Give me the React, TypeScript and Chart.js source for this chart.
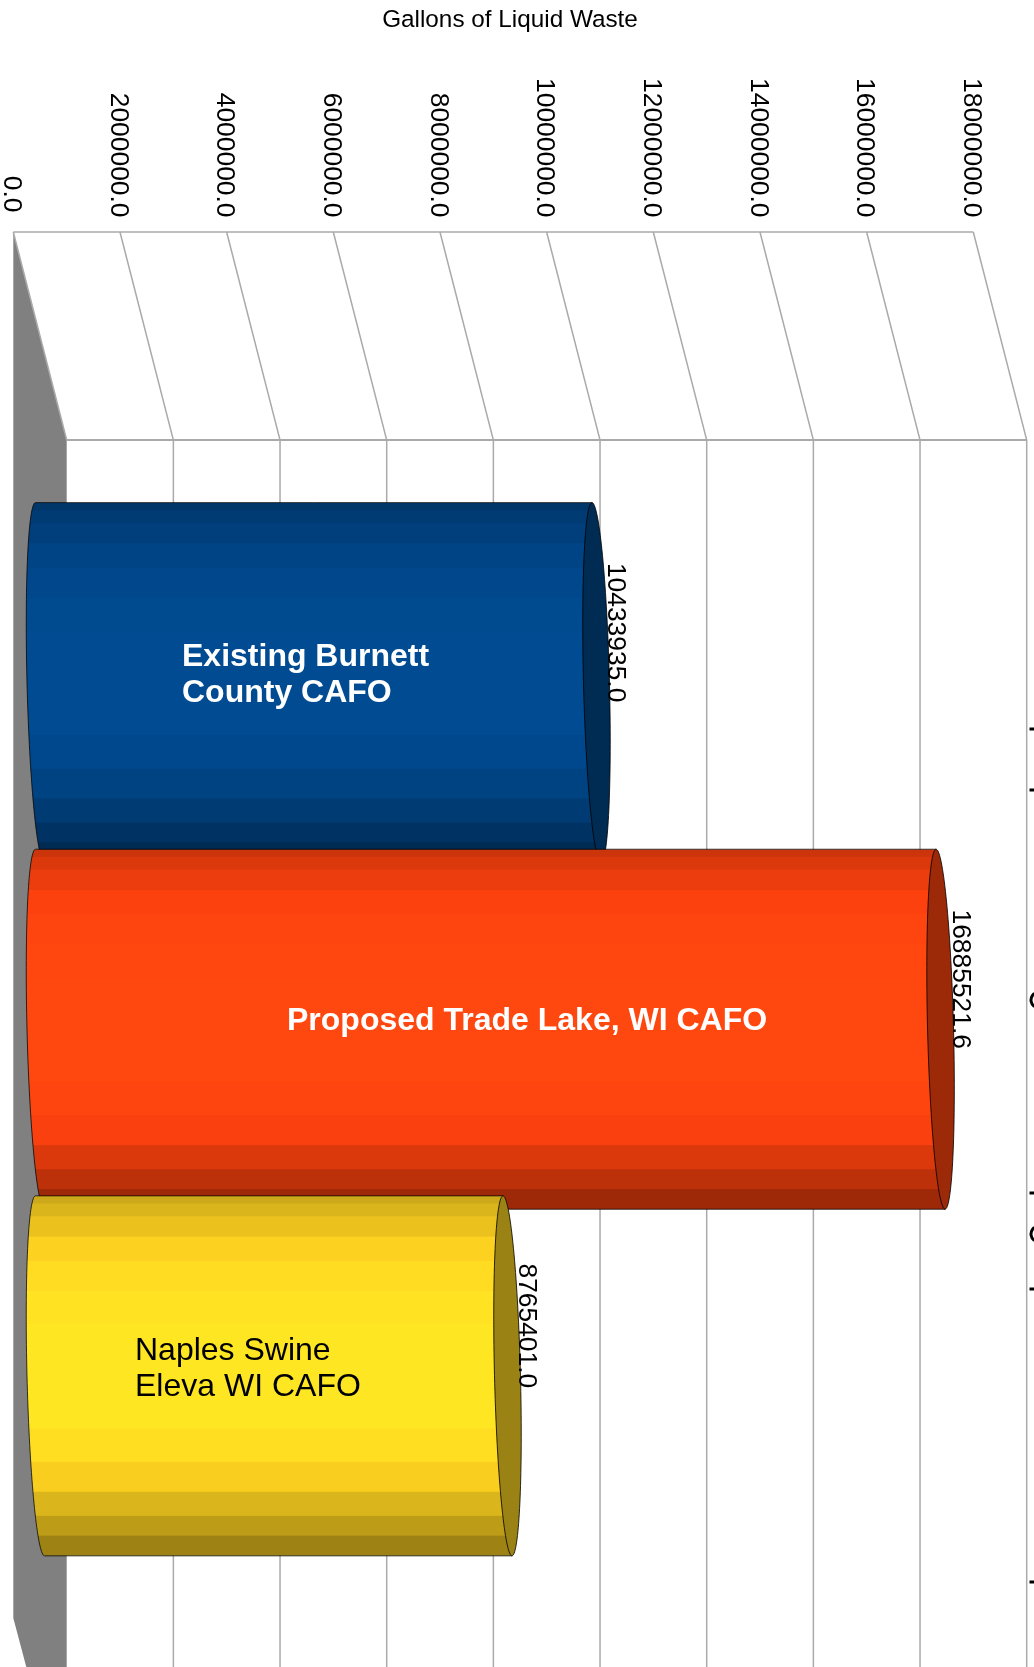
import React, { useEffect, useRef } from "react";
import { Chart, registerables } from "chart.js";

Chart.register(...registerables);

const chartTitle = "Gallons of Liquid Waste";
const slots = [1, 2, 3];
const gallons = [10433935.0, 16885521.6, 8765401.0];
const noteLines = [
  ["Existing Burnett", "County CAFO"],
  ["Proposed Trade Lake, WI CAFO"],
  ["Naples Swine", "Eleva WI CAFO"],
];
const axisMax = 18000000;
const axisStep = 2000000;
const slotAxisMax = 3.84;

const bodyColors = [
  [0, 69, 134],
  [255, 66, 14],
  [255, 211, 32],
];
const capColors = ["#002b52", "#9c2a09", "#9a8214"];
const noteColors = ["#ffffff", "#ffffff", "#000000"];
const noteWeights = ["bold", "bold", "normal"];
const noteLeft = [182, 287, 135];
const noteBaseline = [666, 1030, 1360];

// Stepped shading across the cylinder body: [start fraction, brightness].
const bandStarts = [0, 0.021, 0.057, 0.113, 0.181, 0.264, 0.356, 0.646, 0.739, 0.822, 0.889, 0.944];
const bandShades = [0.8, 0.86, 0.92, 0.99, 1.04, 1.07, 1.09, 1.05, 0.975, 0.86, 0.74, 0.62];

// Slivers of the rotated category text that run off the right edge.
const edgeDashes = [729, 790, 1193, 1289, 1582];
const edgeCurves = [1000, 1234];

const FONT = '"Liberation Sans", Arial, sans-serif';
const GRID = "#aaaaaa";
const WALL = "#808080";
const DEPTH_X = 26.7;
const DEPTH_Y = 104;
const CAP_A = 13;
const CAP_B = 4.5;

function ellipsePoint(cx: number, cy: number, r: number, t: number): [number, number] {
  return [cx + CAP_A * Math.cos(t) + CAP_B * Math.sin(t), cy + r * Math.sin(t)];
}

function cylinder(ctx: CanvasRenderingContext2D, x0: number, x1: number, cy: number, r: number, i: number) {
  const steps = 72;
  const body = new Path2D();
  // Left rim, top tip round through the far side to the bottom tip.
  for (let s = 0; s <= steps; s++) {
    const t = -Math.PI / 2 - (Math.PI * s) / steps;
    const [px, py] = ellipsePoint(x0, cy, r, t);
    if (s === 0) body.moveTo(px, py);
    else body.lineTo(px, py);
  }
  const bottomTip = ellipsePoint(x1, cy, r, Math.PI / 2);
  const topTip = ellipsePoint(x1, cy, r, -Math.PI / 2);
  body.lineTo(bottomTip[0], bottomTip[1]);
  body.lineTo(topTip[0], topTip[1]);
  body.closePath();

  ctx.save();
  ctx.clip(body);
  const [cr, cg, cb] = bodyColors[i];
  const channel = (c: number, k: number) => Math.min(255, Math.round(c * k));
  bandStarts.forEach((start, b) => {
    const end = b + 1 < bandStarts.length ? bandStarts[b + 1] : 1;
    const k = bandShades[b];
    ctx.fillStyle = `rgb(${channel(cr, k)},${channel(cg, k)},${channel(cb, k)})`;
    const y = cy - r + start * 2 * r;
    ctx.fillRect(x0 - 30, y, x1 - x0 + 60, (end - start) * 2 * r + 1);
  });
  ctx.restore();

  ctx.lineWidth = 1;
  ctx.strokeStyle = "rgba(0,0,0,0.75)";
  ctx.stroke(body);

  const cap = new Path2D();
  for (let s = 0; s <= steps * 2; s++) {
    const [px, py] = ellipsePoint(x1, cy, r, (Math.PI * s) / steps);
    if (s === 0) cap.moveTo(px, py);
    else cap.lineTo(px, py);
  }
  cap.closePath();
  ctx.fillStyle = capColors[i];
  ctx.fill(cap);
  ctx.strokeStyle = "rgba(0,0,0,0.8)";
  ctx.stroke(cap);
}

const wallsPlugin = {
  id: "walls",
  beforeDatasetsDraw(chart: any) {
    const { ctx, chartArea } = chart;
    const scale = chart.scales.x;
    const backTop = chartArea.top - DEPTH_Y;
    const frontTop = chartArea.top + DEPTH_Y;
    const bottom = chart.height;
    const left = scale.getPixelForValue(0);
    const backFloorY = bottom - 49;

    ctx.save();
    ctx.fillStyle = WALL;
    ctx.beginPath();
    ctx.moveTo(left - DEPTH_X, backTop);
    ctx.lineTo(left + DEPTH_X, frontTop);
    ctx.lineTo(left + DEPTH_X, bottom);
    ctx.lineTo(left - DEPTH_X + 13, bottom);
    ctx.lineTo(left - DEPTH_X, backFloorY);
    ctx.closePath();
    ctx.fill();

    ctx.strokeStyle = GRID;
    ctx.lineWidth = 1.5;
    const ticks = scale.ticks;
    ticks.forEach((tick: any) => {
      const px = scale.getPixelForValue(tick.value);
      ctx.beginPath();
      ctx.moveTo(px - DEPTH_X, backTop);
      ctx.lineTo(px + DEPTH_X, frontTop);
      if (tick.value !== 0) ctx.lineTo(px + DEPTH_X, bottom);
      ctx.stroke();
    });
    const right = scale.getPixelForValue(axisMax);
    ctx.beginPath();
    ctx.moveTo(left - DEPTH_X, backTop);
    ctx.lineTo(right - DEPTH_X, backTop);
    ctx.stroke();
    ctx.lineWidth = 2;
    ctx.beginPath();
    ctx.moveTo(left + DEPTH_X, frontTop);
    ctx.lineTo(right + DEPTH_X, frontTop);
    ctx.stroke();

    // Value labels follow the back edge, turned a quarter clockwise.
    ctx.fillStyle = "#000000";
    ctx.font = `26.4px ${FONT}`;
    ctx.textAlign = "right";
    ctx.textBaseline = "middle";
    ticks.forEach((tick: any) => {
      const px = scale.getPixelForValue(tick.value) - DEPTH_X - 2;
      ctx.save();
      ctx.translate(px, tick.value === 0 ? 212.5 : 217.5);
      ctx.rotate(Math.PI / 2);
      ctx.fillText(Number(tick.value).toFixed(1), 0, 0);
      ctx.restore();
    });

    // Clipped category text along the right edge.
    ctx.fillStyle = "#000000";
    edgeDashes.forEach((y) => ctx.fillRect(1029.5, y - 1.5, 6, 3));
    ctx.strokeStyle = "#000000";
    ctx.lineWidth = 3;
    edgeCurves.forEach((y) => {
      ctx.beginPath();
      ctx.arc(1039, y, 8, Math.PI * 0.7, Math.PI * 1.3);
      ctx.stroke();
    });

    ctx.textAlign = "center";
    ctx.textBaseline = "alphabetic";
    ctx.font = `24.3px ${FONT}`;
    ctx.fillText(chartTitle, 510, 27);
    ctx.restore();
  },
};

const cylindersPlugin = {
  id: "cylinders",
  afterDatasetsDraw(chart: any) {
    const { ctx } = chart;
    const meta = chart.getDatasetMeta(0);
    ctx.save();
    meta.data.forEach((bar: any, i: number) => {
      const { x, y, base, height } = bar.getProps(["x", "y", "base", "height"], true);
      cylinder(ctx, base, x, y, height / 2, i);
    });
    meta.data.forEach((bar: any, i: number) => {
      const { x, y } = bar.getProps(["x", "y"], true);
      ctx.save();
      ctx.translate(x + 12, y - 50);
      ctx.rotate(Math.PI / 2);
      ctx.font = `26.4px ${FONT}`;
      ctx.fillStyle = "#000000";
      ctx.textAlign = "center";
      ctx.textBaseline = "alphabetic";
      ctx.fillText(gallons[i].toFixed(1), 0, 0);
      ctx.restore();

      ctx.font = `${noteWeights[i]} 32px ${FONT}`;
      ctx.fillStyle = noteColors[i];
      ctx.textAlign = "left";
      noteLines[i].forEach((line, n) => ctx.fillText(line, noteLeft[i], noteBaseline[i] + n * 36));
    });
    ctx.restore();
  },
};

export default function App() {
  const ref = useRef<HTMLCanvasElement | null>(null);
  useEffect(() => {
    document.body.style.margin = "0";
    if (!ref.current) return;
    const chart = new Chart(ref.current, {
      type: "bar",
      data: {
        datasets: [
          {
            label: chartTitle,
            data: gallons.map((v, i) => ({ x: v, y: slots[i] })),
            backgroundColor: "rgba(0,0,0,0)",
            barThickness: 360,
          },
        ],
      },
      options: {
        indexAxis: "y",
        animation: false,
        responsive: false,
        layout: { padding: { left: 40, right: 34, top: 336, bottom: 0 } },
        plugins: { legend: { display: false }, tooltip: { enabled: false } },
        scales: {
          x: { type: "linear", min: 0, max: axisMax, display: false, ticks: { stepSize: axisStep } },
          y: { type: "linear", min: 0, max: slotAxisMax, reverse: true, offset: false, display: false },
        },
      },
      plugins: [wallsPlugin, cylindersPlugin],
    } as any);
    return () => chart.destroy();
  }, []);
  return <canvas ref={ref} width={1034} height={1667} style={{ display: "block" }} />;
}
